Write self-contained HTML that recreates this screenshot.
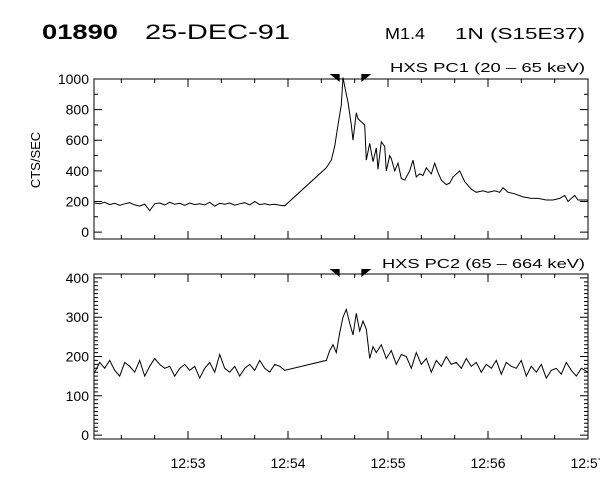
<!DOCTYPE html>
<html><head><meta charset="utf-8"><style>
body{margin:0;background:#fff;}
svg{display:block;font-family:"Liberation Sans",sans-serif;}
</style></head><body>
<svg id="chart" width="600" height="480" viewBox="0 0 600 480">
<text x="42" y="39" font-size="21" font-weight="bold" textLength="76" lengthAdjust="spacingAndGlyphs">01890</text>
<text x="145" y="39" font-size="21" textLength="145" lengthAdjust="spacingAndGlyphs">25-DEC-91</text>
<text x="385" y="39" font-size="16" textLength="40" lengthAdjust="spacingAndGlyphs">M1.4</text>
<text x="455" y="39" font-size="16" textLength="130" lengthAdjust="spacingAndGlyphs">1N (S15E37)</text>
<text x="390" y="72" font-size="13" textLength="195" lengthAdjust="spacingAndGlyphs">HXS PC1 (20 – 65 keV)</text>
<text x="382" y="268" font-size="13" textLength="203" lengthAdjust="spacingAndGlyphs">HXS PC2 (65 – 664 keV)</text>
<text transform="translate(40,160) rotate(-90)" font-size="13" text-anchor="middle">CTS/SEC</text>
<g id="g1"></g><g id="g2"></g>
</svg>
<script>
// time in seconds after 12:52:00
const timeTicks=[60,120,180,240,300];
const timeLabels=["12:53","12:54","12:55","12:56","12:57"];
const p1Ticks=[0,200,400,600,800,1000];
const p2Ticks=[0,100,200,300,400];
const pcMarkers=[151,164];
// PC1 pre-gap (t0=4, step 3)
const pc1PreStart=4, pc1PreStep=3;
const pc1Pre=[190,185,195,180,188,175,185,192,178,170,183,140,185,190,178,195,182,188,175,190,180,185,178,195,170,188,182,190,176,185,192,178,200,180,185,178,182,175,172];
const pc1PostT=[143,146,148,150,152,153,155,156,158,159,161,162,164,166,167,169,171,173,174,176,178,179,181,182,184,186,188,190,193,195,197,199,201,203,206,208,210,212,215,217,219,223,226,230,233,237,240,244,247,249,252,256,261,266,270,275,279,283,286,288,292,294,298,300];
const pc1Post=[420,470,560,700,830,1010,900,850,700,600,780,740,720,700,470,580,460,550,410,590,560,400,500,480,400,450,350,340,400,470,360,380,370,420,380,450,390,340,310,320,360,400,330,280,260,270,260,270,260,290,260,250,230,220,220,210,210,220,240,200,240,210,210,210];
const pc2PreStart=4, pc2PreStep=3;
const pc2Pre=[160,185,170,190,165,150,185,175,160,190,150,175,195,180,170,175,150,170,180,165,175,145,170,185,160,205,170,160,175,150,170,180,165,190,170,160,180,175,165];
const pc2PostT=[143,145,147,149,151,153,155,157,159,161,163,165,167,169,171,173,176,179,182,185,188,191,194,197,200,203,206,209,212,215,218,221,224,227,230,233,236,239,242,245,248,251,254,257,260,263,266,269,272,275,278,281,284,287,290,293,296,300];
const pc2Post=[190,215,230,210,260,300,320,285,255,310,265,290,270,195,225,210,230,195,215,180,205,200,170,210,180,195,160,190,175,200,180,185,170,195,175,185,160,180,170,190,155,185,175,170,190,150,175,160,180,145,165,170,155,185,165,150,170,160];

const NS='http://www.w3.org/2000/svg';
const X0=94,X1=588,T0=3.6,T1=300;
function xs(t){return X0+(t-T0)*(X1-X0)/(T1-T0);}
function mk(tag,attrs,parent){const e=document.createElementNS(NS,tag);for(const k in attrs)e.setAttribute(k,attrs[k]);parent.appendChild(e);return e;}

function panel(g,top,bot,vmax,vmin,yTicks,minorStep,preStart,preStep,pre,postT,post,showXLabels,idx){
  const ys=v=>bot-(v-vmin)*(bot-top)/(vmax-vmin);
  const frame=mk('rect',{x:X0,y:top,width:X1-X0,height:bot-top,fill:'none',stroke:'#000','stroke-width':1},g);
  
  
  for(let v=0;v<=vmax;v+=minorStep){
    const major=yTicks.includes(v);const L=major?8:4;const y=ys(v);
    const t=mk('path',{d:`M${X0} ${y}h${L}M${X1} ${y}h${-L}`,stroke:'#000','stroke-width':1},g);
    
    
  }
  yTicks.forEach(v=>{
    const t=mk('text',{x:89,y:ys(v)+5,'font-size':14,'text-anchor':'end'},g);t.textContent=v;
    
    
  });
  for(let s=20;s<=300;s+=20){
    const major=s%60===0;const L=major?8:4;const x=xs(s);
    const t=mk('path',{d:`M${x} ${bot}v${-L}M${x} ${top}v${L}`,stroke:'#000','stroke-width':1},g);
    
    
  }
  if(showXLabels){
    timeTicks.forEach((s,i)=>{
      const t=mk('text',{x:xs(s),y:bot+29,'font-size':14,'text-anchor':'middle'},g);t.textContent=timeLabels[i];
      
      
    });
  }
  pcMarkers.forEach((s,i)=>{
    const x=xs(s);
    const d=i===0?`M${x-10} ${top-5}H${x}V${top+3}Z`:`M${x} ${top-5}H${x+10}L${x} ${top+3}Z`;
    const m=mk('path',{d:d,fill:'#000'},g);
    
    
  });
  const pts=[];
  pre.forEach((v,i)=>pts.push([xs(preStart+i*preStep),ys(v)]));
  postT.forEach((t,i)=>pts.push([xs(t),ys(post[i])]));
  const line=mk('polyline',{points:pts.map(p=>p[0].toFixed(1)+','+p[1].toFixed(1)).join(' '),fill:'none',stroke:'#000','stroke-width':1},g);
  
  
}
panel(document.getElementById('g1'),79,239,1000,-45,p1Ticks,100,pc1PreStart,pc1PreStep,pc1Pre,pc1PostT,pc1Post,false,1);
panel(document.getElementById('g2'),274,439,410,-10,p2Ticks,10,pc2PreStart,pc2PreStep,pc2Pre,pc2PostT,pc2Post,true,2);
</script>
</body></html>
